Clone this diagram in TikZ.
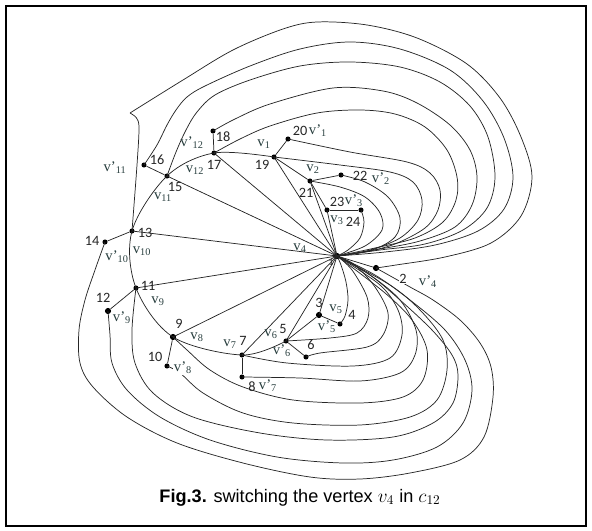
\documentclass[tikz,border=0pt]{standalone}
\usepackage{fontspec}
\setmainfont{Liberation Sans}
\newfontfamily\numf{Carlito}
\newfontfamily\vf{Liberation Serif}
\definecolor{vcol}{RGB}{40,62,62}
\begin{document}
\begin{tikzpicture}[x=0.75pt,y=-0.75pt,
  dot/.style={circle,fill=black,inner sep=0pt,minimum size=3.8pt},
  bigdot/.style={dot,minimum size=4.6pt},
  ed/.style={line width=0.55pt,draw=black!85},
  num/.style={font=\numf\fontsize{10.7}{12}\selectfont,inner sep=0.5pt,text=black!85},
  vl/.style={font=\vf\fontsize{11}{12}\selectfont,inner sep=0.5pt,text=vcol},
  sm/.style={smooth,tension=0.55}]
\useasboundingbox (0,0) rectangle (592,531);
\draw[line width=1.4pt] (6,6) rectangle (586,526);
% vertices
\node[bigdot] (n1) at (337,256) {};
\node[bigdot] (n2) at (376,268) {};
\node[bigdot] (n3) at (319,315) {};
\node[dot] (n4) at (340,324) {};
\node[dot] (n5) at (286,341) {};
\node[dot] (n6) at (306,357) {};
\node[dot] (n7) at (242,355) {};
\node[dot] (n8) at (242,377) {};
\node[bigdot] (n9) at (173,337) {};
\node[dot] (n10) at (167,366) {};
\node[dot] (n11) at (136,288) {};
\node[bigdot] (n12) at (108,311) {};
\node[dot] (n13) at (132,231) {};
\node[dot] (n14) at (105,242) {};
\node[dot] (n15) at (167,176) {};
\node[dot] (n16) at (144,165) {};
\node[dot] (n17) at (214,153) {};
\node[dot] (n18) at (213,131) {};
\node[dot] (n19) at (274,157) {};
\node[dot] (n20) at (288,139) {};
\node[dot] (n21) at (310,181) {};
\node[dot] (n22) at (341,175) {};
\node[dot] (n23) at (327,210) {};
\node[dot] (n24) at (361,210) {};
% straight lines from the centre
\foreach \t in {3,5,7,9,11,13,15,17,19,21,23}
  \draw[ed] (n1.center) -- (n\t.center);
% cycle
\draw[ed] plot[sm] coordinates {(n19.center) (n17.center) (n15.center) (n13.center) (n11.center) (n9.center) (n7.center) (n5.center)};
\draw[ed] (n5) -- (n3);
\draw[ed] (n23) -- (n21) -- (n19);
% pendant edges
\draw[ed] (n19) -- (n20);
\draw[ed] (n21) -- (n22);
\draw[ed] (n23) -- (n24);
\draw[ed] (n1) -- (n2);
\draw[ed] (n3) -- (n4);
\draw[ed] (n5) -- (n6);
\draw[ed] (n7) -- (n8);
\draw[ed] (n9) -- (n10);
\draw[ed] (n11) -- (n12);
\draw[ed] (n13) -- (n14);
\draw[ed] (n15) -- (n16);
\draw[ed] (n17) -- (n18);
% upper curves
\coordinate (kink) at (130,113);
\draw[ed] plot[sm] coordinates {(n2.center) (396,265) (445,257) (491,243) (521,216) (532,177) (521,137) (500,98) (467,64) (417,38) (367,25) (317,22) (283,29) (233,50) (183,80) (kink)};
\draw[ed] plot[sm] coordinates {(kink) (136.5,118) (139,128) (137,165) (n13.center)};
\draw[ed] plot[sm] coordinates {(n1.center) (385,252) (435,245) (478,231) (504,209) (513,177) (504,138) (483,101) (450,70) (400,49) (350,42) (300,49) (250,66) (205,86) (187,97) (176,110) (167,125) (157,145) (n16.center)};
\draw[ed] plot[sm] coordinates {(n1.center) (380,250) (425,244) (463,230) (487,208) (495,177) (488,137) (470,106) (440,82) (400,67) (350,62) (300,66) (250,80) (215,95) (197,112) (186,130) (176,152) (n15.center)};
\draw[ed] plot[sm] coordinates {(n1.center) (380,249) (420,241) (455,227) (472,205) (477,177) (470,150) (450,125) (417,103) (383,91) (333,88) (270,104) (235,119) (n18.center)};
\draw[ed] plot[sm] coordinates {(n1.center) (375,248) (415,238) (443,222) (456,200) (457,177) (447,150) (425,127) (395,114) (360,110) (317,113) (270,126) (240,139) (n17.center)};
\draw[ed] plot[sm] coordinates {(n1.center) (365,252) (395,244) (425,228) (438,210) (440,190) (430,173) (407,162) (350,152) (n20.center)};
\draw[ed] plot[sm] coordinates {(n1.center) (370,250) (400,238) (418,220) (422,200) (413,182) (390,172) (340,165) (n19.center)};
\draw[ed] plot[sm] coordinates {(n1.center) (372,250) (395,237) (400,218) (388,197) (365,182) (n22.center)};
\draw[ed] plot[sm] coordinates {(n1.center) (365,246) (382,230) (380,213) (365,197) (340,187) (n21.center)};
\draw[ed] plot[sm] coordinates {(n1.center) (348,250) (360,238) (364,222) (n24.center)};
% lower curves
\draw[ed] plot[sm] coordinates {(n2.center) (410,287) (433,300) (460,320) (480,343) (491,367) (493,397) (484,437) (460,460) (410,473) (360,479) (310,477) (243,463) (177,443) (127,417) (93,387) (80,363) (79,330) (85,300) (95,270) (n14.center)};
\draw[ed] plot[sm] coordinates {(n1.center) (375,275) (410,300) (445,330) (465,360) (472,390) (463,423) (437,447) (393,460) (343,463) (277,457) (210,440) (160,417) (127,390) (112,363) (110,335) (n12.center)};
\draw[ed] plot[sm] coordinates {(n1.center) (370,275) (400,300) (432,330) (452,355) (458,375) (453,403) (433,423) (393,437) (327,440) (260,433) (193,417) (153,393) (135,363) (132,330) (n11.center)};
\draw[ed] plot[sm] coordinates {(n10.center) (180,373) (203,393) (243,413) (293,423) (360,425) (410,417) (437,400) (447,370) (443,340) (420,310) (390,285) (n1.center)};
\draw[ed] plot[sm] coordinates {(n9.center) (187,350) (210,370) (243,387) (293,400) (360,403) (403,397) (423,380) (427,350) (412,320) (385,293) (n1.center)};
\draw[ed] plot[sm] coordinates {(n8.center) (300,378) (360,381) (400,373) (415,355) (416,330) (400,300) (370,275) (n1.center)};
\draw[ed] plot[sm] coordinates {(n7.center) (287,363) (353,366) (390,358) (402,335) (398,310) (380,285) (n1.center)};
\draw[ed] plot[sm] coordinates {(n6.center) (320,353) (367,347) (383,335) (388,313) (375,287) (355,265) (n1.center)};
\draw[ed] plot[sm] coordinates {(n5.center) (330,338) (357,333) (368,318) (367,297) (352,270) (n1.center)};
\draw[ed] plot[sm] coordinates {(n4.center) (345,316) (348,300) (346,282) (341,265) (n1.center)};
% labels
\node[num,font=\numf\fontsize{7}{8}\selectfont] at (331,262) {1};
\node[num,fill=white] at (403,279) {2};
\node[vl] at (428,282) {v’\textsubscript{4}};
\node[num] at (319,303) {3};
\node[vl] at (336,309) {v\textsubscript{5}};
\node[num] at (352,315) {4};
\node[vl] at (327,327) {v’\textsubscript{5}};
\node[num] at (283,329) {5};
\node[vl] at (271,334) {v\textsubscript{6}};
\node[num] at (311,345) {6};
\node[vl] at (282,351) {v’\textsubscript{6}};
\node[vl] at (230,344) {v\textsubscript{7}};
\node[num] at (243,341) {7};
\node[num] at (252,387) {8};
\node[vl] at (268,386) {v’\textsubscript{7}};
\node[num] at (179,324) {9};
\node[vl] at (197,337) {v\textsubscript{8}};
\node[num] at (155,357) {10};
\node[vl,fill=white] at (183,368) {v’\textsubscript{8}};
\node[num] at (148,286) {11};
\node[vl] at (158,301) {v\textsubscript{9}};
\node[num] at (103,298) {12};
\node[vl] at (122,318) {v’\textsubscript{9}};
\node[num] at (145,233) {13};
\node[vl] at (142,251) {v\textsubscript{10}};
\node[num] at (92,241) {14};
\node[vl] at (117,257) {v’\textsubscript{10}};
\node[num] at (175,187) {15};
\node[vl] at (163,197) {v\textsubscript{11}};
\node[num] at (157,160) {16};
\node[vl] at (115,168) {v’\textsubscript{11}};
\node[num] at (214,165) {17};
\node[vl] at (195,170) {v\textsubscript{12}};
\node[num] at (223,137) {18};
\node[vl] at (192,143) {v’\textsubscript{12}};
\node[num] at (262,165) {19};
\node[vl] at (264,144) {v\textsubscript{1}};
\node[num] at (300,131) {20};
\node[vl] at (318,131) {v’\textsubscript{1}};
\node[num] at (306,193) {21};
\node[vl] at (313,169) {v\textsubscript{2}};
\node[num] at (360,176) {22};
\node[vl] at (381,179) {v’\textsubscript{2}};
\node[num] at (337,202) {23};
\node[vl] at (354,201) {v’\textsubscript{3}};
\node[vl] at (337,220) {v\textsubscript{3}};
\node[num] at (353,222) {24};
\node[vl] at (300,248) {v\textsubscript{4}};
% caption
\node[anchor=base,font=\fontsize{13.6}{16}\selectfont] (cap) at (300,502) {\textbf{Fig.3.} switching the vertex $v_4$ in $c_{12}$};
\end{tikzpicture}
\end{document}
